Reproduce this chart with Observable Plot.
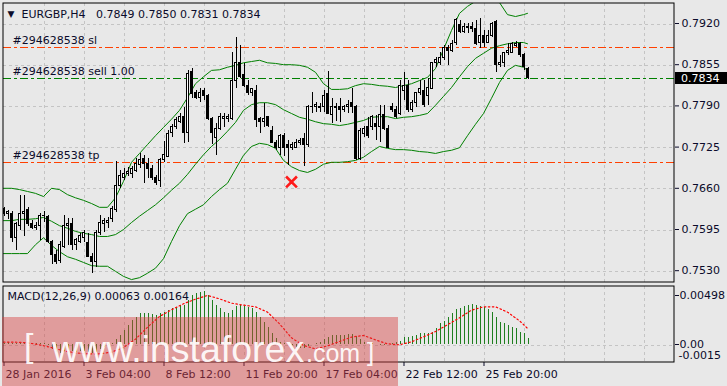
<!DOCTYPE html>
<html><head><meta charset="utf-8">
<script src="https://cdn.jsdelivr.net/npm/d3@7"></script>
<script src="https://cdn.jsdelivr.net/npm/@observablehq/plot@0.6"></script>
<style>
html,body{margin:0;padding:0;background:#e8e8e8;}
#wrap{position:relative;width:727px;height:386px;overflow:hidden;background:#e8e8e8;}
#main,#macd{position:absolute;left:0;line-height:0;}
#main{top:0}
#macd{top:283px}
#wm{position:absolute;left:0;top:0;pointer-events:none}
</style></head><body>
<div id="wrap"><div id="main"></div><div id="macd"></div>
<svg id="wm" width="727" height="386">
<rect x="2" y="317" width="396" height="69" fill="rgba(214,64,64,0.45)"/>
<g fill="rgba(255,255,255,0.93)" font-family="Liberation Sans, Arial, sans-serif">
<text x="24" y="357" font-size="34">[</text>
<text x="52" y="362" font-size="37.5">www.instaforex</text>
<text x="306" y="362" font-size="25">.com</text>
<text x="367" y="361" font-size="26">]</text>
</g>
</svg>
</div>
<script>
const symbol = "EURGBP", timeframe = "H4";
const dateTicks = [0, 20, 40, 60, 80, 100, 120];
const dateLabels = ["28 Jan 2016", "3 Feb 04:00", "8 Feb 12:00", "11 Feb 20:00", "17 Feb 04:00", "22 Feb 12:00", "25 Feb 20:00"];
const priceTicks = [0.7530, 0.7595, 0.7660, 0.7725, 0.7790, 0.7855, 0.7920];
const gridBars = [10, 20, 30, 40, 50, 60, 70, 80, 90, 100, 110, 120, 130, 140, 150, 160];
const orderPrices = [0.7883, 0.7834, 0.7702];
const orderLabels = ["#294628538 sl", "#294628538 sell 1.00", "#294628538 tp"];
const closedIdx = [72];
const closedPrice = [0.7670];
const macdTicks = [0.00498, 0, -0.0015];
const macdTickLabels = ["0.00498", "0.00", "-0.0015"];

const open = [
.7627,.7619,.7620,.7582,.7601,.7619,.7625,.7603,.7598,.7601,
.7617,.7614,.7575,.7554,.7545,.7568,.7600,.7603,.7570,.7576,
.7582,.7573,.7552,.7543,.7589,.7603,.7606,.7611,.7625,.7664,
.7677,.7683,.7682,.7688,.7696,.7707,.7698,.7691,.7677,.7671,
.7704,.7710,.7747,.7756,.7765,.7773,.7747,.7843,.7810,.7803,
.7813,.7806,.7770,.7739,.7754,.7769,.7769,.7770,.7830,.7857,
.7838,.7822,.7810,.7814,.7770,.7764,.7772,.7750,.7732,.7724,
.7742,.7728,.7724,.7724,.7731,.7737,.7729,.7788,.7788,.7789,
.7788,.7808,.7776,.7786,.7788,.7784,.7789,.7794,.7789,.7707,
.7745,.7756,.7756,.7762,.7756,.7776,.7754,.7789,.7784,.7778,
.7814,.7822,.7783,.7794,.7810,.7814,.7805,.7817,.7857,.7858,
.7866,.7881,.7877,.7890,.7917,.7907,.7914,.7914,.7912,.7890,
.7901,.7890,.7901,.7923,.7854,.7857,.7873,.7874,.7885,.7888,
.7870,.7849];
const high = [
.7630,.7625,.7623,.7606,.7649,.7649,.7630,.7609,.7606,.7620,
.7623,.7617,.7578,.7562,.7576,.7617,.7612,.7612,.7581,.7589,
.7593,.7589,.7557,.7593,.7617,.7612,.7614,.7631,.7702,.7688,
.7691,.7693,.7694,.7707,.7715,.7712,.7707,.7696,.7680,.7707,
.7734,.7751,.7761,.7772,.7778,.7788,.7846,.7849,.7814,.7817,
.7817,.7808,.7772,.7762,.7778,.7778,.7776,.7874,.7898,.7885,
.7857,.7830,.7817,.7822,.7772,.7794,.7773,.7758,.7735,.7745,
.7747,.7735,.7732,.7737,.7739,.7747,.7791,.7811,.7795,.7794,
.7814,.7844,.7802,.7794,.7802,.7791,.7799,.7817,.7791,.7754,
.7758,.7772,.7775,.7775,.7791,.7791,.7759,.7794,.7789,.7830,
.7843,.7830,.7799,.7811,.7830,.7830,.7833,.7858,.7866,.7874,
.7885,.7885,.7893,.7928,.7925,.7920,.7920,.7922,.7925,.7928,
.7909,.7909,.7922,.7925,.7870,.7874,.7888,.7890,.7892,.7890,
.7873,.7850];
const low = [
.7616,.7611,.7575,.7562,.7593,.7584,.7600,.7595,.7593,.7578,
.7606,.7573,.7540,.7540,.7541,.7565,.7570,.7562,.7562,.7573,
.7575,.7551,.7526,.7535,.7586,.7590,.7597,.7606,.7622,.7660,
.7672,.7679,.7676,.7685,.7691,.7668,.7676,.7672,.7664,.7661,
.7701,.7709,.7740,.7753,.7762,.7731,.7732,.7802,.7800,.7795,
.7799,.7767,.7729,.7712,.7751,.7756,.7764,.7767,.7817,.7833,
.7819,.7806,.7805,.7756,.7747,.7756,.7756,.7731,.7720,.7712,
.7710,.7696,.7720,.7723,.7728,.7694,.7724,.7778,.7780,.7780,
.7780,.7776,.7762,.7765,.7764,.7780,.7778,.7778,.7704,.7704,
.7740,.7739,.7751,.7735,.7732,.7751,.7723,.7780,.7770,.7775,
.7799,.7780,.7780,.7788,.7806,.7788,.7791,.7816,.7851,.7854,
.7862,.7854,.7874,.7885,.7904,.7904,.7904,.7906,.7885,.7881,
.7882,.7888,.7898,.7843,.7851,.7851,.7870,.7873,.7882,.7866,
.7846,.7831];
const close = [
.7619,.7622,.7582,.7603,.7620,.7623,.7603,.7598,.7601,.7617,
.7616,.7576,.7554,.7543,.7570,.7600,.7603,.7570,.7578,.7584,
.7589,.7552,.7543,.7589,.7605,.7608,.7609,.7627,.7664,.7679,
.7683,.7685,.7690,.7699,.7705,.7698,.7691,.7677,.7669,.7704,
.7713,.7745,.7756,.7767,.7773,.7747,.7841,.7808,.7802,.7810,
.7805,.7770,.7747,.7754,.7772,.7772,.7772,.7829,.7857,.7835,
.7822,.7811,.7816,.7767,.7765,.7769,.7758,.7732,.7724,.7743,
.7724,.7723,.7728,.7732,.7734,.7729,.7789,.7789,.7791,.7786,
.7806,.7778,.7788,.7788,.7783,.7788,.7791,.7788,.7707,.7751,
.7754,.7743,.7772,.7756,.7776,.7754,.7724,.7784,.7773,.7821,
.7821,.7784,.7794,.7810,.7816,.7792,.7819,.7857,.7863,.7866,
.7882,.7877,.7888,.7925,.7906,.7915,.7913,.7911,.7888,.7901,
.7890,.7901,.7920,.7854,.7858,.7873,.7877,.7888,.7888,.7870,
.7851,.7834];

const bandIdx = [0,2,4,6,8,10,12,14,16,18,20,22,24,26,28,30,32,34,36,38,40,42,44,46,48,50,52,54,56,58,60,62,64,66,68,70,72,74,76,78,80,82,84,86,88,90,92,94,96,98,100,102,104,106,108,110,112,114,116,118,120,122,124,126,128,130,131];
const upper = [
.7660,.7660,.7658,.7655,.7652,.7647,.7660,.7658,.7650,.7645,
.7641,.7636,.7630,.7630,.7645,.7671,.7701,.7715,.7729,.7743,
.7756,.7769,.7783,.7803,.7825,.7836,.7846,.7847,.7851,.7854,
.7858,.7860,.7862,.7858,.7857,.7855,.7855,.7854,.7851,.7843,
.7825,.7816,.7816,.7817,.7822,.7825,.7824,.7822,.7821,.7819,
.7822,.7825,.7830,.7835,.7849,.7879,.7909,.7936,.7947,.7955,
.7959,.7963,.7953,.7934,.7931,.7934,.7936];
const middle = [
.7609,.7609,.7611,.7611,.7612,.7614,.7608,.7601,.7597,.7592,
.7589,.7587,.7584,.7584,.7587,.7595,.7606,.7616,.7625,.7634,
.7645,.7657,.7668,.7682,.7698,.7713,.7726,.7737,.7750,.7764,
.7783,.7792,.7795,.7795,.7792,.7784,.7778,.7772,.7769,.7765,
.7762,.7761,.7759,.7761,.7764,.7767,.7772,.7773,.7773,.7770,
.7772,.7773,.7775,.7778,.7791,.7805,.7819,.7836,.7852,.7865,
.7873,.7881,.7885,.7888,.7890,.7890,.7888];
const lower = [
.7557,.7557,.7557,.7557,.7571,.7582,.7570,.7560,.7552,.7548,
.7543,.7538,.7537,.7537,.7529,.7521,.7516,.7519,.7526,.7534,
.7549,.7576,.7601,.7620,.7627,.7634,.7647,.7658,.7668,.7690,
.7712,.7726,.7731,.7729,.7723,.7704,.7694,.7688,.7685,.7690,
.7698,.7701,.7701,.7702,.7704,.7709,.7718,.7726,.7723,.7721,
.7721,.7720,.7718,.7717,.7715,.7718,.7720,.7724,.7743,.7761,
.7778,.7802,.7827,.7846,.7854,.7851,.7846];

const macd = [
.00014,.00017,.00014,.00007,.00014,.00020,.00020,.00014,.00007,.00007,
.00007,-.00010,-.00054,-.00081,-.00088,-.00068,-.00061,-.00071,-.00078,-.00075,
-.00068,-.00078,-.00095,-.00081,-.00054,-.00030,-.00010,.00007,.00047,.00092,
.00142,.00193,.00244,.00278,.00312,.00312,.00312,.00305,.00295,.00312,
.00329,.00346,.00363,.00380,.00397,.00397,.00447,.00498,.00522,.00532,
.00539,.00498,.00447,.00397,.00363,.00329,.00312,.00346,.00386,.00397,
.00386,.00380,.00363,.00329,.00278,.00227,.00176,.00108,.00058,.00024,
.00007,.00000,-.00014,-.00027,-.00044,-.00044,-.00020,-.00003,.00007,.00024,
.00047,.00075,.00092,.00092,.00092,.00092,.00102,.00102,.00081,.00047,
.00024,.00014,.00007,.00000,-.00007,-.00010,.00003,.00010,.00020,.00034,
.00068,.00075,.00081,.00092,.00108,.00115,.00108,.00125,.00159,.00210,
.00237,.00278,.00312,.00353,.00363,.00386,.00397,.00403,.00397,.00386,
.00373,.00353,.00329,.00278,.00227,.00210,.00193,.00176,.00159,.00125,
.00108,.00063];
const sigIdx = [0,3,6,9,12,15,18,21,24,27,30,33,36,39,42,45,48,51,54,57,60,63,66,69,72,75,78,81,84,87,90,93,96,99,102,105,108,111,114,117,120,123,126,129,131];
const signal = [
.00024,.00024,.00017,-.00003,-.00031,-.00064,-.00085,-.00095,-.00095,-.00078,
-.00030,.00054,.00176,.00285,.00353,.00414,.00461,.00498,.00464,.00420,
.00400,.00383,.00329,.00210,.00068,-.00010,-.00044,-.00014,.00031,.00075,
.00092,.00047,.00007,-.00003,.00027,.00078,.00132,.00200,.00271,.00349,
.00383,.00383,.00329,.00241,.00164];

const FONT = "DejaVu Sans";
const TXT = "#0b0b2a";
const GRID = "#c4c4c4";
const f4 = d3.format(".4f"), f5 = d3.format(".5f");
const n = open.length, last = n - 1;
const idx = d3.range(n);
const header = `${symbol},${timeframe}\u00a0\u00a0 ${[open[last], high[last], low[last], close[last]].map(f4).join(" ")}`;
const macdLabel = `MACD(12,26,9) ${f5(macd[last])} ${f5(signal[signal.length - 1])}`;
const baseStyle = {background: "transparent", fontFamily: FONT, fontSize: "11px", color: TXT, overflow: "visible"};
const crisp = {shapeRendering: "crispEdges"};

const mainPlot = Plot.plot({
  width: 727, height: 283,
  marginTop: 3, marginBottom: 1, marginLeft: 3, marginRight: 53,
  style: baseStyle,
  x: {domain: [0, 167.75], axis: null},
  y: {domain: [0.7530, 0.7920], range: [270.2, 23], axis: null},
  marks: [
    Plot.ruleX(gridBars, {stroke: GRID, strokeDasharray: "3,3", dx: 0.5, ...crisp}),
    Plot.ruleY(priceTicks, {stroke: GRID, strokeDasharray: "3,3", dy: 0.5, ...crisp}),
    Plot.ruleY([orderPrices[0]], {stroke: "#ff4000", strokeDasharray: "8,3,3,3", dy: 0.5, ...crisp}),
    Plot.ruleY([orderPrices[2]], {stroke: "#ff4000", strokeDasharray: "8,3,3,3", dy: 0.5, ...crisp}),
    Plot.ruleY([orderPrices[1]], {stroke: "#008000", strokeDasharray: "8,3,3,3", dy: 0.5, ...crisp}),
    Plot.line(bandIdx, {x: d => d, y: (d, k) => upper[k], stroke: "#008000", strokeWidth: 1, clip: true}),
    Plot.line(bandIdx, {x: d => d, y: (d, k) => middle[k], stroke: "#008000", strokeWidth: 1, clip: true}),
    Plot.line(bandIdx, {x: d => d, y: (d, k) => lower[k], stroke: "#008000", strokeWidth: 1, clip: true}),
    Plot.ruleX(idx, {x: i => i, y1: i => low[i], y2: i => high[i], stroke: "#000", dx: 0.5, clip: true, ...crisp}),
    Plot.rect(idx, {filter: i => close[i] >= open[i], x1: i => i - 0.25, x2: i => i + 0.25, y1: i => open[i], y2: i => close[i], fill: "#fff", stroke: "#000", dx: 0.5, clip: true, ...crisp}),
    Plot.rect(idx, {filter: i => close[i] < open[i], x1: i => i - 0.25, x2: i => i + 0.25, y1: i => open[i], y2: i => close[i], fill: "#000", stroke: "#000", dx: 0.5, clip: true, ...crisp}),
    Plot.dot(closedIdx, {x: d => d, y: (d, k) => closedPrice[k], symbol: "times", r: 5, stroke: "#ff1a1a", strokeWidth: 2.6}),
    Plot.text(orderLabels, {y: (d, k) => orderPrices[k], text: d => d, frameAnchor: "left", dx: 9, dy: -3, textAnchor: "start", lineAnchor: "bottom", fill: TXT}),
    Plot.text([header], {text: d => d, frameAnchor: "top-left", dx: 18, dy: 14, textAnchor: "start", lineAnchor: "bottom", fill: TXT}),
    Plot.text(["\u25BC"], {text: d => d, frameAnchor: "top-left", dx: 4, dy: 13, textAnchor: "start", lineAnchor: "bottom", fontSize: 9, fill: TXT}),
    Plot.axisY(priceTicks, {anchor: "right", tickSize: 4, tickPadding: 3, tickFormat: f4, textAnchor: "start"}),
    Plot.frame({stroke: "#000", insetLeft: -0.5, insetTop: -0.5, insetRight: 0.5, insetBottom: 0.5})
  ]
});
document.getElementById("main").append(mainPlot);

// current price box on the price scale
const ys = mainPlot.scale("y").apply(orderPrices[1]);
const ms = d3.select(mainPlot);
ms.append("rect").attr("x", 675).attr("y", Math.round(ys) - 6).attr("width", 52).attr("height", 12).attr("fill", "#000");
ms.append("text").attr("x", 681).attr("y", ys + 4).attr("text-anchor", "start").attr("fill", "#fff")
  .style("font-size", "11px").style("font-family", FONT).text(f4(orderPrices[1]));

const macdPlot = Plot.plot({
  width: 727, height: 103,
  marginTop: 3, marginBottom: 24, marginLeft: 3, marginRight: 53,
  style: baseStyle,
  x: {domain: [0, 167.75], axis: null},
  y: {domain: [-0.0015, 0.00498], range: [75.76, 12], axis: null},
  marks: [
    Plot.ruleX(gridBars, {stroke: GRID, strokeDasharray: "3,3", dx: 0.5, ...crisp}),
    Plot.ruleY([0], {stroke: GRID, strokeDasharray: "3,3", dy: 0.5, ...crisp}),
    Plot.ruleX(idx, {x: i => i, y1: 0, y2: i => macd[i], stroke: "#1f7f1f", dx: 0.5, ...crisp}),
    Plot.line(sigIdx, {x: d => d, y: (d, k) => signal[k], stroke: "#ff0000", strokeWidth: 1.2, strokeDasharray: "1.5,2.5"}),
    Plot.text([macdLabel], {text: d => d, frameAnchor: "top-left", dx: 4, dy: 13.5, textAnchor: "start", lineAnchor: "bottom", fill: TXT}),
    Plot.axisY(macdTicks.slice(0, 2), {anchor: "right", tickSize: 4, tickPadding: 1, tickFormat: (d, i) => macdTickLabels[i], textAnchor: "start"}),
    Plot.text([macdTicks[2]], {y: d => d, text: () => macdTickLabels[2], frameAnchor: "right", dx: 4, textAnchor: "start", lineAnchor: "bottom", fill: TXT}),
    Plot.axisX(dateTicks, {anchor: "bottom", tickSize: 4, tickFormat: () => "", dx: 0.5}),
    Plot.text(dateTicks, {x: d => d, text: (d, k) => dateLabels[k], frameAnchor: "bottom", textAnchor: "start", lineAnchor: "bottom", dx: 2, dy: 15, fill: TXT}),
    Plot.frame({stroke: "#000", insetLeft: -0.5, insetTop: -0.5, insetRight: 0.5, insetBottom: 0.5})
  ]
});
document.getElementById("macd").append(macdPlot);
</script>
</body></html>
